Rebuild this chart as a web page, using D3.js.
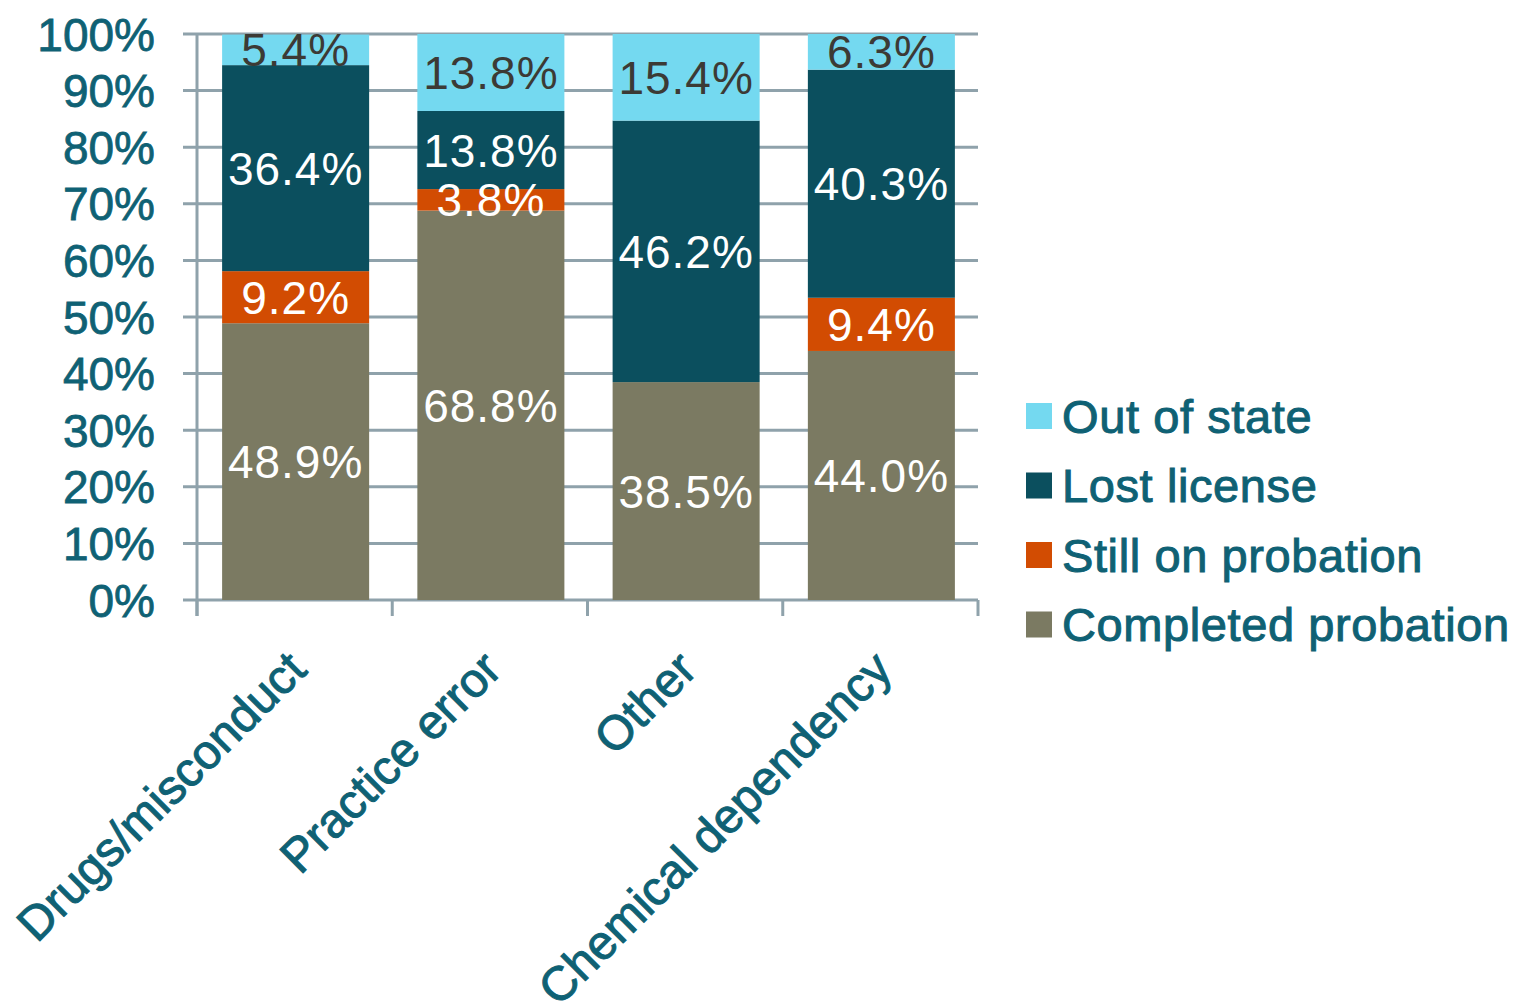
<!DOCTYPE html>
<html>
<head>
<meta charset="utf-8">
<script src="https://cdn.jsdelivr.net/npm/d3@7"></script>
<style>
  body { margin: 0; background: #fff; }
  text { font-family: "Liberation Sans", Arial, sans-serif; }
</style>
</head>
<body>
<div class="chart"></div>
<script>
// categories and series (percent)
var categories = ['Drugs/misconduct', 'Practice error', 'Other', 'Chemical dependency'];
var seriesNames = ['Completed probation', 'Still on probation', 'Lost license', 'Out of state'];
var completed = [48.9, 68.8, 38.5, 44.0];
var stillOn = [9.2, 3.8, 0, 9.4];
var lostLicense = [36.4, 13.8, 46.2, 40.3];
var outOfState = [5.4, 13.8, 15.4, 6.3];
var yTicks = [0, 10, 20, 30, 40, 50, 60, 70, 80, 90, 100];

var colors = ['#7b7a62', '#d24c02', '#0b4f5e', '#74d9f0'];
var labelColors = ['#fff', '#fff', '#fff', '#3c3a35'];
var teal = '#0f6174';
var gridColor = '#8fa2ab';

var width = 1513, height = 1002;
var plotLeft = 197, plotRight = 978, plotTop = 34, plotBottom = 600;

var svg = d3.select('.chart').append('svg')
  .attr('width', width)
  .attr('height', height);

var x = d3.scaleBand().domain(categories).range([plotLeft, plotRight])
  .paddingInner(0.247).paddingOuter(0.1235);
var y = d3.scaleLinear().domain([0, 100]).range([plotBottom, plotTop]);

// build rows for stacking
var rows = categories.map(function(c, i) {
  return {
    cat: c,
    'Completed probation': completed[i],
    'Still on probation': stillOn[i],
    'Lost license': lostLicense[i],
    'Out of state': outOfState[i]
  };
});
var stacked = d3.stack().keys(seriesNames)(rows);

// gridlines
svg.append('g').selectAll('line').data(yTicks).enter().append('line')
  .attr('x1', plotLeft - 14).attr('x2', plotRight)
  .attr('y1', function(d) { return y(d); })
  .attr('y2', function(d) { return y(d); })
  .attr('stroke', gridColor).attr('stroke-width', 3);

// y axis line
svg.append('line')
  .attr('x1', plotLeft).attr('x2', plotLeft).attr('y1', plotTop).attr('y2', plotBottom + 16)
  .attr('stroke', gridColor).attr('stroke-width', 3);

// x ticks at band edges
var edges = categories.map(function(c) { return x(c) - x.step() * x.paddingInner() / 2; });
edges.push(plotRight);
svg.append('g').selectAll('line').data(edges).enter().append('line')
  .attr('x1', function(d) { return d; }).attr('x2', function(d) { return d; })
  .attr('y1', plotBottom).attr('y2', plotBottom + 16)
  .attr('stroke', gridColor).attr('stroke-width', 3);

// y tick labels
svg.append('g').selectAll('text').data(yTicks).enter().append('text')
  .attr('x', 155)
  .attr('y', function(d) { return y(d); })
  .attr('dy', '0.36em')
  .attr('text-anchor', 'end')
  .attr('font-size', 46)
  .attr('fill', teal).attr('stroke', teal).attr('stroke-width', 0.8)
  .text(function(d) { return d + '%'; });

// bars
var layers = svg.append('g').selectAll('g').data(stacked).enter().append('g')
  .attr('fill', function(d, i) { return colors[i]; });

layers.selectAll('rect').data(function(d) { return d; }).enter().append('rect')
  .attr('x', function(d) { return x(d.data.cat) + 1; })
  .attr('width', x.bandwidth())
  .attr('y', function(d) { return y(Math.min(d[1], 100)); })
  .attr('height', function(d) { return y(d[0]) - y(Math.min(d[1], 100)); });

// value labels
stacked.forEach(function(layer, i) {
  svg.append('g').selectAll('text').data(layer.filter(function(d) { return d[1] - d[0] > 0; }))
    .enter().append('text')
    .attr('x', function(d) { return x(d.data.cat) + 1 + x.bandwidth() / 2; })
    .attr('y', function(d) { return y((d[0] + Math.min(d[1], 100)) / 2); })
    .attr('dy', '0.36em')
    .attr('text-anchor', 'middle')
    .attr('font-size', 46)
    .attr('letter-spacing', 1)
    .attr('fill', labelColors[i])
    .text(function(d) { return (d[1] - d[0]).toFixed(1) + '%'; });
});

// category labels, rotated
svg.append('g').selectAll('text').data(categories).enter().append('text')
  .attr('transform', function(d) {
    return 'translate(' + (x(d) + x.bandwidth() / 2 + 14) + ',' + 672 + ') rotate(-45)';
  })
  .attr('text-anchor', 'end')
  .attr('font-size', 48)
  .attr('fill', teal).attr('stroke', teal).attr('stroke-width', 1)
  .text(function(d) { return d; });

// legend, top entry is the top of the stack
var legendItems = seriesNames.slice().reverse();
var legend = svg.append('g').selectAll('g').data(legendItems).enter().append('g')
  .attr('transform', function(d, i) { return 'translate(1026,' + (416 + i * 69.5) + ')'; });

legend.append('rect')
  .attr('x', 0).attr('y', -13).attr('width', 26).attr('height', 26)
  .attr('fill', function(d) { return colors[seriesNames.indexOf(d)]; });

legend.append('text')
  .attr('x', 36).attr('dy', '0.36em')
  .attr('font-size', 47)
  .attr('letter-spacing', 0.6)
  .attr('fill', teal).attr('stroke', teal).attr('stroke-width', 1)
  .text(function(d) { return d; });
</script>
</body>
</html>
